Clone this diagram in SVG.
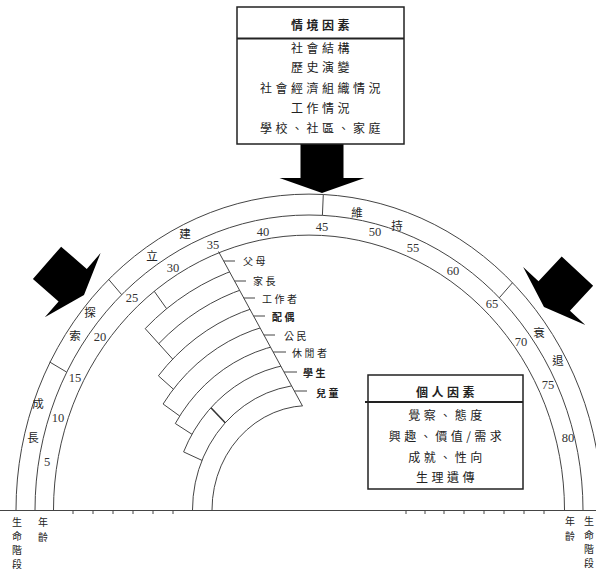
<svg xmlns="http://www.w3.org/2000/svg" width="596" height="572" viewBox="0 0 596 572">
<defs>
<style>
.ln{fill:none;stroke:#444;stroke-width:1}
.tk{fill:none;stroke:#333;stroke-width:1.6}
.box{fill:#fff;stroke:#222;stroke-width:1.5}
.cj{font-family:"Noto Sans CJK TC","Noto Sans CJK SC",sans-serif;fill:#222;dominant-baseline:central}
.bx{font-size:12px;letter-spacing:3.5px;text-anchor:middle}
.hd{font-weight:bold}
.rl{font-size:10px;letter-spacing:2.5px}
.st{font-size:11.5px;text-anchor:middle}
.ax{font-size:10px;text-anchor:middle}
.ag{font-family:"Liberation Serif",serif;font-size:12.5px;text-anchor:middle;fill:#333;dominant-baseline:central}
.arw{fill:#000}
</style>
<clipPath id="diag"><polygon points="0,0 81.8,0 364.5,520 0,520"/></clipPath>
<path id="arw" d="M-21.5,-49 H21.5 V-15 H42.5 L0,0 L-42.5,-15 H-21.5 Z"/>
</defs>
<rect width="596" height="572" fill="#fff"/>

<g id="connectors">
  <use href="#arw" class="arw" transform="translate(322,193)"/>
  <use href="#arw" class="arw" transform="translate(84,295) rotate(-49)"/>
  <use href="#arw" class="arw" transform="translate(544,307) rotate(43)"/>
</g>

<g id="age-rings">
  <line class="ln" x1="0" y1="510.5" x2="596" y2="510.5"/>
  <path class="ln" d="M16,510 A293,316 0 0 1 602,510"/>
  <path class="ln" d="M35,510 A274,295 0 0 1 583,510"/>
  <path class="ln" d="M53.5,510 A255.5,275 0 0 1 564.5,510"/>
  <path class="ln" d="M49.7,362 L66.5,372 M108.6,279.3 L121.6,294.6 M323.3,194.4 L322.4,215.4 M512.5,282.7 L499.3,297.8"/>
  <path class="ln" stroke="#777" d="M73,511 v3 M93,511 v3 M113,511 v3 M133,511 v3 M153,511 v3 M173,511 v3 M406,511 v3 M425,511 v3 M444,511 v3 M464,511 v3 M484,511 v3 M504,511 v3 M524,511 v3 M544,511 v3"/>
</g>

<g id="stages" class="cj st">
  <text x="38" y="403">成</text><text x="33" y="437">長</text>
  <text x="90" y="312">探</text><text x="75" y="335">索</text>
  <text x="185" y="233">建</text><text x="152" y="255">立</text>
  <text x="357" y="212">維</text><text x="397" y="225">持</text>
  <text x="539" y="332">衰</text><text x="558" y="360">退</text>
</g>

<g id="ages" class="ag">
  <text x="47" y="462">5</text><text x="58" y="418">10</text><text x="75" y="378">15</text>
  <text x="100" y="337">20</text><text x="132" y="298">25</text><text x="173" y="268">30</text>
  <text x="213" y="245">35</text><text x="263" y="232">40</text><text x="322" y="227">45</text>
  <text x="375" y="232">50</text><text x="413" y="248">55</text><text x="453" y="271">60</text>
  <text x="492" y="304">65</text><text x="521" y="342">70</text><text x="548" y="385">75</text>
  <text x="568" y="438">80</text>
</g>

<g id="roles">
  <g clip-path="url(#diag)">
    <path class="ln" d="M212,510 A97,104.5 0 0 1 325.8,407.1"/>
    <path class="ln" d="M192.5,510 A116.5,125.5 0 0 1 329.2,386.4"/>
    <path class="ln" d="M183.6,451.9 A136.5,147 0 0 1 332.7,365.2"/>
    <path class="ln" d="M175.3,423.5 A156,168 0 0 1 336.1,344.5"/>
    <path class="ln" d="M163.1,404 A176,189.6 0 0 1 339.6,323.3"/>
    <path class="ln" d="M158.4,375.8 A195.5,210.6 0 0 1 342.9,302.6"/>
    <path class="ln" d="M158.8,343.6 A215.5,232.1 0 0 1 346.4,281.4"/>
    <path class="ln" d="M145.2,328.6 A235,253.1 0 0 1 349.8,260.8"/>
  </g>
  <path class="ln" d="M202,460.4 L183.6,451.9 M192,434.3 L175.3,423.5 M179.7,416 L163.1,404 M173.4,389.2 L158.4,375.8 M172.7,359.1 L145.2,328.6 M166.6,308.7 L154.2,291.2"/>
  <path class="tk" d="M225.2,422.8 L210.9,407.8"/>
  <line class="ln" x1="218.5" y1="251.5" x2="302.5" y2="406"/>
  <path class="ln" d="M223.7,261 H235 M234.5,281 H246 M243.8,298 H255 M253.6,316 H265 M263.9,335 H275 M273.1,352 H286 M284,372 H297 M294.3,391 H307"/>
  <g class="cj rl">
    <text x="243" y="260">父母</text>
    <text x="253" y="280">家長</text>
    <text x="262" y="298">工作者</text>
    <text x="272" y="316" font-weight="bold">配偶</text>
    <text x="284" y="335">公民</text>
    <text x="292" y="352">休閒者</text>
    <text x="303" y="372" font-weight="bold">學生</text>
    <text x="316" y="392" font-weight="bold">兒童</text>
  </g>
</g>

<g id="context-box">
  <rect class="box" x="237" y="7" width="167" height="137"/>
  <line x1="237" y1="38.5" x2="404" y2="38.5" stroke="#222" stroke-width="2"/>
  <g class="cj bx">
    <text x="322" y="24" class="hd">情境因素</text>
    <text x="322" y="47">社會結構</text>
    <text x="322" y="66">歷史演變</text>
    <text x="322" y="87">社會經濟組織情況</text>
    <text x="322" y="107">工作情況</text>
    <text x="322" y="127">學校、社區、家庭</text>
  </g>
</g>

<g id="personal-box">
  <rect class="box" x="368" y="375" width="155" height="114"/>
  <line x1="365" y1="402" x2="523" y2="402" stroke="#222" stroke-width="2"/>
  <g class="cj bx">
    <text x="447" y="391" class="hd">個人因素</text>
    <text x="447" y="414">覺察、態度</text>
    <text x="447" y="435">興趣、價值/需求</text>
    <text x="447" y="456">成就、性向</text>
    <text x="447" y="476">生理遺傳</text>
  </g>
</g>

<g id="axis-labels" class="cj ax">
  <text x="17" y="521">生</text><text x="17" y="535">命</text><text x="17" y="549">階</text><text x="17" y="563">段</text>
  <text x="43" y="521">年</text><text x="43" y="536">齡</text>
  <text x="570" y="520">年</text><text x="570" y="535">齡</text>
  <text x="589" y="520">生</text><text x="589" y="534">命</text><text x="589" y="548">階</text><text x="589" y="562">段</text>
</g>
</svg>
